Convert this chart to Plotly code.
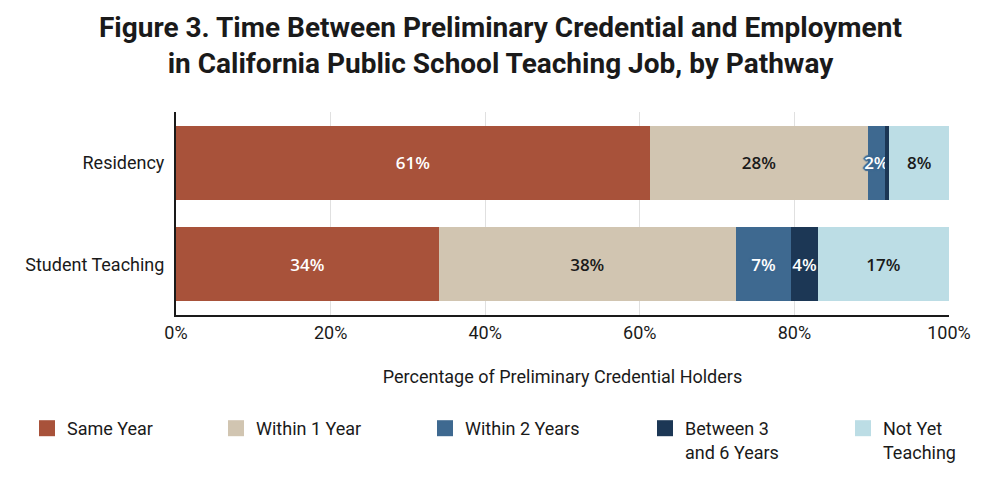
import plotly.graph_objects as go

categories = ["Residency", "Student Teaching"]
series_names = ["Same Year", "Within 1 Year", "Within 2 Years", "Between 3<br>and 6 Years", "Not Yet<br>Teaching"]
same_year = [61.3, 34.0]
within_1 = [28.2, 38.4]
within_2 = [2.2, 7.2]
between_3_6 = [0.6, 3.4]
not_yet = [7.7, 17.0]
labels = [
    ["61%", "34%"],
    ["28%", "38%"],
    ["2%", "7%"],
    ["", "4%"],
    ["8%", "17%"],
]
tick_vals = [0, 20, 40, 60, 80, 100]
tick_text = ["0%", "20%", "40%", "60%", "80%", "100%"]
title_text = ("Figure 3. Time Between Preliminary Credential and Employment<br>"
              "in California Public School Teaching Job, by Pathway")

colors = ["#A8523A", "#D1C5B1", "#3E6990", "#1C3755", "#BCDDE5"]
text_colors = ["white", "#1a1a1a", "white", "white", "#1a1a1a"]
series = [same_year, within_1, within_2, between_3_6, not_yet]

FONT = "Roboto, Arial, sans-serif"
LABEL_FONT = "Open Sans, Roboto, Arial, sans-serif"

# plot area in pixels
L, R, T, B = 176, 51, 112, 176
PW, PH = 1000 - L - R, 491 - T - B

legend_names = ["legend", "legend2", "legend3", "legend4", "legend5"]
legend_px = [27, 216, 425, 645, 843]

fig = go.Figure()
for i, (name, vals) in enumerate(zip(series_names, series)):
    tf = dict(family=LABEL_FONT, size=17, color=text_colors[i], weight=600)
    if i == 2:
        o = "#3E6990"
        tf["shadow"] = (f"2px 0 1px {o}, -2px 0 1px {o}, 0 2px 1px {o}, 0 -2px 1px {o}, "
                        f"1px 1px 1px {o}, -1px -1px 1px {o}, 1px -1px 1px {o}, -1px 1px 1px {o}")
    fig.add_trace(go.Bar(
        y=categories, x=vals, orientation="h", name=name,
        marker=dict(color=colors[i], line=dict(width=0)),
        text=labels[i], textposition="inside", insidetextanchor="middle",
        textangle=0, textfont=tf, showlegend=False, hoverinfo="skip",
    ))

for i, name in enumerate(series_names):
    fig.add_trace(go.Scatter(
        x=[None], y=[None], mode="markers", name=name,
        marker=dict(symbol="square", size=18, color=colors[i]),
        showlegend=True, legend=legend_names[i],
    ))

fig.add_annotation(
    text=title_text, xref="paper", yref="paper",
    x=(500 - L) / PW, y=(PH + T - 9) / PH,
    xanchor="center", yanchor="top", showarrow=False,
    font=dict(family=FONT, size=28, color="#1a1a1a", weight="bold"),
)

legend_common = dict(
    orientation="h", xanchor="left", yanchor="top",
    y=-95 / PH,
    font=dict(family=FONT, size=18, color="#1a1a1a"),
    itemsizing="trace", valign="top", bgcolor="rgba(0,0,0,0)",
)
legend_layout = {}
for ln, px in zip(legend_names, legend_px):
    legend_layout[ln] = dict(legend_common, x=(px - L) / PW)

fig.update_layout(
    width=1000, height=491,
    barmode="stack", bargap=0.27,
    plot_bgcolor="white", paper_bgcolor="white",
    margin=dict(l=L, r=R, t=T, b=B, autoexpand=False),
    uniformtext=dict(mode="show", minsize=17),
    **legend_layout,
)
fig.update_xaxes(
    range=[0, 100], tickvals=tick_vals, ticktext=tick_text,
    showgrid=True, gridcolor="#e0e0e0", gridwidth=1,
    showline=True, linecolor="#1a1a1a", linewidth=2,
    ticks="", zeroline=False,
    tickfont=dict(family=FONT, size=18, color="#1a1a1a"),
    title=dict(text="Percentage of Preliminary Credential Holders",
               font=dict(family=FONT, size=18, color="#1a1a1a"), standoff=29),
)
fig.update_yaxes(
    autorange="reversed", showline=True, linecolor="#1a1a1a", linewidth=2,
    ticks="", ticklabelstandoff=6,
    tickfont=dict(family=FONT, size=18, color="#1a1a1a"),
)

fig.write_html("out.html")
